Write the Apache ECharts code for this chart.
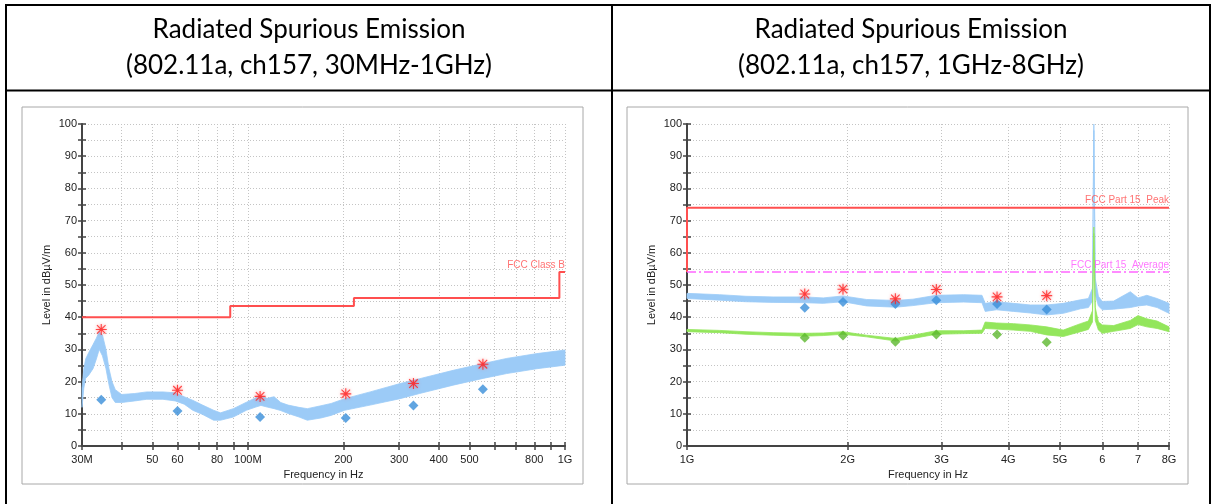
<!DOCTYPE html>
<html>
<head>
<meta charset="utf-8">
<script src="https://cdn.jsdelivr.net/npm/echarts@6/dist/echarts.min.js"></script>
<style>
html, body { margin: 0; padding: 0; background: #fff; }
#chart { width: 1216px; height: 504px; }
</style>
</head>
<body>
<div id="chart"></div>
<script>
// ---------- 30MHz - 1GHz (frequency in MHz) ----------
var lowFreq = [30, 30.4, 30.8, 31.5, 32.5, 33.3, 34.0, 34.8, 35.7, 36.5, 37.3, 38.2, 40, 44, 48, 54, 59, 63, 67, 72, 78, 82, 90, 99, 106, 110, 115, 121, 127, 134, 145, 154, 170, 183, 202, 243, 302, 348, 444, 552, 655, 815, 1000];
var lowTraceMin = [12, 18, 21, 22, 24, 27, 30, 28, 24, 19, 15, 13.5, 13.5, 14, 14.5, 14.5, 14, 13, 11.1, 9.8, 8.0, 8.0, 9.0, 11.1, 12.1, 12.6, 12.1, 11.6, 11.0, 10.1, 9.0, 8.0, 8.7, 9.5, 11.1, 12.7, 14.7, 16.3, 18.9, 21.0, 22.5, 24.0, 25.1];
var lowTraceMax = [18, 24, 27, 29, 31.5, 33.5, 35.5, 34.5, 30, 24, 20, 17.5, 16, 16.3, 16.8, 16.8, 16.5, 15.3, 14.2, 12.7, 11.1, 10.3, 11.6, 13.6, 15.0, 15.4, 14.8, 15.3, 13.5, 12.7, 12.0, 11.6, 12.5, 13.2, 14.7, 16.8, 19.4, 20.9, 23.5, 25.6, 27.2, 28.7, 29.8];
var lowMarkFreq = [34.5, 60.0, 109.3, 203.6, 332.8, 551];
var lowPeakLevel = [36.2, 17.3, 15.4, 16.2, 19.4, 25.4];
var lowQpLevel = [14.4, 10.9, 9.0, 8.7, 12.6, 17.6];
var classBFreq = [30, 88, 88, 216, 216, 960, 960, 1000];
var classBLevel = [40, 40, 43.5, 43.5, 46, 46, 54, 54];
var lowTickFreq = [30, 40, 50, 60, 70, 80, 90, 100, 200, 300, 400, 500, 600, 700, 800, 900, 1000];
var lowLabelFreq = [30, 50, 60, 80, 100, 200, 300, 400, 500, 800, 1000];
var lowLabelText = ['30M', '50', '60', '80', '100M', '200', '300', '400', '500', '800', '1G'];

// ---------- 1GHz - 8GHz (frequency in GHz) ----------
var highFreq = [1.0, 1.15, 1.29, 1.45, 1.66, 1.8, 1.96, 2.17, 2.46, 2.65, 2.93, 3.30, 3.57, 3.62, 3.8, 4.09, 4.4, 4.72, 5.07, 5.46, 5.65, 5.75, 5.785, 5.82, 5.9, 6.0, 6.3, 6.77, 7.0, 7.27, 7.6, 8.0];
var highPkMin = [45.8, 45.3, 44.8, 44.6, 44.5, 44.3, 44.8, 43.5, 43.1, 43.6, 44.5, 44.7, 44.5, 41.8, 42.3, 41.8, 41.3, 40.7, 41.2, 42.6, 43.0, 45, 98, 47, 43.5, 42.3, 42.5, 43.0, 43.5, 43.8, 43.0, 41.2];
var highPkMax = [47.4, 47.0, 46.5, 46.3, 46.3, 46.0, 46.6, 45.5, 45.2, 45.6, 46.8, 47.0, 46.8, 44.3, 44.8, 44.3, 43.8, 43.8, 44.3, 45.4, 45.8, 49, 100, 52, 46.5, 44.9, 45.0, 47.9, 46.0, 46.8, 45.8, 44.3];
var highAvMin = [35.5, 35.2, 34.7, 34.4, 34.1, 34.3, 34.7, 33.9, 32.6, 33.4, 34.7, 34.9, 35.0, 36.5, 36.3, 36.0, 35.6, 34.5, 34.0, 35.5, 36.2, 38.5, 66, 39, 36, 35.0, 35.6, 36.5, 37.7, 37.0, 36.5, 35.5];
var highAvMax = [36.2, 35.9, 35.5, 35.2, 35.0, 35.1, 35.5, 34.4, 33.4, 34.4, 35.8, 35.8, 36.0, 38.5, 38.2, 38.0, 37.6, 37.0, 36.0, 38.0, 38.8, 42, 68, 43, 38.5, 37.6, 37.4, 39.0, 40.5, 39.5, 38.8, 37.0];
var highMarkFreq = [1.662, 1.960, 2.457, 2.932, 3.810, 4.72];
var highPeakLevel = [47.2, 48.7, 45.7, 48.6, 46.3, 46.7];
var highPkMarkLevel = [42.9, 44.7, 44.1, 45.3, 44.1, 42.4];
var highAvMarkLevel = [33.6, 34.3, 32.4, 34.6, 34.6, 32.2];
var peakLimitFreq = [1, 1, 8];
var peakLimitLevel = [54, 74, 74];
var avgLimitFreq = [1, 8];
var avgLimitLevel = [54, 54];
var highTickFreq = [1, 2, 3, 4, 5, 6, 7, 8];
var highLabelText = ['1G', '2G', '3G', '4G', '5G', '6', '7', '8G'];

var levelMin = 0, levelMax = 100, levelStep = 5;

var AXIS = '#444';
var TXT = '#222';
var FONT = 'Liberation Sans';
var BLUE = '#9ccbf7';
var GREEN = '#93e65c';
var RED = '#ff4f4f';
var STAR = 'path://M9 0H11V20H9Z M0 9H20V11H0Z M1.5 2.9L2.9 1.5L18.5 17.1L17.1 18.5Z M17.1 1.5L18.5 2.9L2.9 18.5L1.5 17.1Z';

function lg(f) { return Math.log10(f); }
function pairs(fs, vs) { return fs.map(function (f, i) { return [lg(f), vs[i]]; }); }

function xAxes(grid, tickF, labelF, labelText) {
    var min = lg(tickF[0]), max = lg(tickF[tickF.length - 1]);
    var labelPos = labelF.map(lg);
    return [{
        type: 'value', gridIndex: grid, position: 'bottom', min: min, max: max,
        name: 'Frequency in Hz', nameLocation: 'middle', nameGap: 22,
        nameTextStyle: { color: TXT, fontSize: 11, fontFamily: FONT },
        axisLine: { lineStyle: { color: AXIS, width: 2 } },
        axisTick: { customValues: tickF.map(lg), length: 4, lineStyle: { color: AXIS, width: 1.5 } },
        axisLabel: {
            customValues: labelPos, margin: 8, color: TXT, fontSize: 11, fontFamily: FONT,
            formatter: function (v) {
                var best = 0;
                labelPos.forEach(function (p, i) { if (Math.abs(p - v) < Math.abs(labelPos[best] - v)) best = i; });
                return labelText[best];
            }
        },
        splitLine: { show: true, lineStyle: { color: '#c4c4c4', type: [1, 2] } }
    }, {
        type: 'value', gridIndex: grid, position: 'bottom', min: min, max: max,
        axisLine: { show: false },
        axisTick: { customValues: tickF.map(lg), inside: true, length: 4, lineStyle: { color: AXIS, width: 1.5 } },
        axisLabel: { show: false },
        splitLine: { show: false }
    }];
}

function yAxes(grid) {
    return [{
        type: 'value', gridIndex: grid, position: 'left', min: levelMin, max: levelMax, interval: levelStep,
        name: 'Level in dBµV/m', nameLocation: 'middle', nameGap: 30,
        nameTextStyle: { color: TXT, fontSize: 11, fontFamily: FONT },
        axisLine: { show: true, lineStyle: { color: AXIS, width: 2 } },
        axisTick: { show: true, length: 4, lineStyle: { color: AXIS, width: 1.5 } },
        axisLabel: {
            margin: 5, color: TXT, fontSize: 11, fontFamily: FONT,
            formatter: function (v) { return v % 10 === 0 ? String(v) : ''; }
        },
        splitLine: { show: true, lineStyle: { color: '#c4c4c4', type: [1, 2] } }
    }, {
        type: 'value', gridIndex: grid, position: 'left', min: levelMin, max: levelMax, interval: levelStep,
        axisLine: { show: false },
        axisTick: { show: true, inside: true, length: 4, lineStyle: { color: AXIS, width: 1.5 } },
        axisLabel: { show: false },
        splitLine: { show: false }
    }];
}

// measured trace drawn as a filled band between its min and max envelope
function band(xi, yi, fs, lo, hi, color) {
    var rows = fs.map(function (f, i) { return [lg(f), lo[i], hi[i]]; });
    return {
        type: 'custom', xAxisIndex: xi, yAxisIndex: yi, data: rows, silent: true, z: 3,
        encode: { x: 0, y: [1, 2] },
        renderItem: function (params, api) {
            if (params.dataIndex !== 0) return;
            var pts = [];
            rows.forEach(function (r) { pts.push(api.coord([r[0], r[2]])); });
            rows.slice().reverse().forEach(function (r) { pts.push(api.coord([r[0], r[1]])); });
            return {
                type: 'polygon', shape: { points: pts },
                style: { fill: color, stroke: color, lineWidth: 0.8 }
            };
        }
    };
}

function limitLabel(xi, yi, fs, vs, text, color) {
    var n = fs.length - 1;
    return {
        type: 'scatter', xAxisIndex: xi, yAxisIndex: yi, data: [[lg(fs[n]), vs[n]]],
        symbolSize: 0, clip: false, silent: true, z: 6,
        label: {
            show: true, formatter: text, position: 'top', align: 'right', distance: 2,
            color: color, fontSize: 10, fontFamily: FONT
        }
    };
}

function markers(xi, yi, fs, vs, symbol, size, color, z) {
    return {
        type: 'scatter', xAxisIndex: xi, yAxisIndex: yi, data: pairs(fs, vs),
        symbol: symbol, symbolSize: size, clip: false, silent: true, z: z,
        itemStyle: symbol === STAR
            ? { color: color, shadowBlur: 3, shadowColor: 'rgba(255,90,90,0.8)' }
            : { color: color }
    };
}

var titleFont = '26px Lato';
var myChart = echarts.init(document.getElementById('chart'));
var option = {
    backgroundColor: '#fff',
    animation: false,
    grid: [
        { left: 82, top: 124, width: 483, height: 322, outerBoundsMode: 'none' },
        { left: 687, top: 124, width: 482, height: 322, outerBoundsMode: 'none' }
    ],
    xAxis: [].concat(
        xAxes(0, lowTickFreq, lowLabelFreq, lowLabelText),
        xAxes(1, highTickFreq, highTickFreq, highLabelText)
    ),
    yAxis: [].concat(yAxes(0), yAxes(1)),
    graphic: [
        { type: 'rect', z: -10, shape: { x: 22, y: 107, width: 561, height: 377 }, style: { fill: '#fff', stroke: '#a8a8a8', lineWidth: 1 } },
        { type: 'rect', z: -10, shape: { x: 627, y: 107, width: 561, height: 377 }, style: { fill: '#fff', stroke: '#a8a8a8', lineWidth: 1 } },
        { type: 'line', shape: { x1: 5, y1: 5, x2: 1211, y2: 5 }, style: { stroke: '#000', lineWidth: 2 } },
        { type: 'line', shape: { x1: 5, y1: 90.5, x2: 1211, y2: 90.5 }, style: { stroke: '#000', lineWidth: 2 } },
        { type: 'line', shape: { x1: 6, y1: 4, x2: 6, y2: 504 }, style: { stroke: '#000', lineWidth: 2 } },
        { type: 'line', shape: { x1: 612, y1: 4, x2: 612, y2: 504 }, style: { stroke: '#000', lineWidth: 2 } },
        { type: 'line', shape: { x1: 1210, y1: 4, x2: 1210, y2: 504 }, style: { stroke: '#000', lineWidth: 2 } },
        { type: 'text', x: 309, y: 30, style: { text: 'Radiated Spurious Emission', font: titleFont, fill: '#000', align: 'center', verticalAlign: 'middle' } },
        { type: 'text', x: 309, y: 66, style: { text: '(802.11a, ch157, 30MHz-1GHz)', font: titleFont, fill: '#000', align: 'center', verticalAlign: 'middle' } },
        { type: 'text', x: 911, y: 30, style: { text: 'Radiated Spurious Emission', font: titleFont, fill: '#000', align: 'center', verticalAlign: 'middle' } },
        { type: 'text', x: 911, y: 66, style: { text: '(802.11a, ch157, 1GHz-8GHz)', font: titleFont, fill: '#000', align: 'center', verticalAlign: 'middle' } }
    ],
    series: [
        band(0, 0, lowFreq, lowTraceMin, lowTraceMax, BLUE),
        {
            type: 'line', xAxisIndex: 0, yAxisIndex: 0, data: pairs(classBFreq, classBLevel),
            symbol: 'none', lineStyle: { color: RED, width: 2 }, silent: true, z: 4
        },
        limitLabel(0, 0, classBFreq, classBLevel, 'FCC Class B', RED),
        markers(0, 0, lowMarkFreq, lowQpLevel, 'diamond', 10, '#3a8fd9', 5),
        markers(0, 0, lowMarkFreq, lowPeakLevel, STAR, 11, '#ff1f1f', 6),

        band(2, 2, highFreq, highPkMin, highPkMax, BLUE),
        band(2, 2, highFreq, highAvMin, highAvMax, GREEN),
        {
            type: 'line', xAxisIndex: 2, yAxisIndex: 2, data: pairs(peakLimitFreq, peakLimitLevel),
            symbol: 'none', lineStyle: { color: RED, width: 2 }, silent: true, z: 4
        }, {
            type: 'line', xAxisIndex: 2, yAxisIndex: 2, data: pairs(avgLimitFreq, avgLimitLevel),
            symbol: 'none', lineStyle: { color: '#ff66ff', width: 1.5, type: [9, 3, 2, 3] }, silent: true, z: 4
        },
        limitLabel(2, 2, peakLimitFreq, peakLimitLevel, 'FCC Part 15  Peak', RED),
        limitLabel(2, 2, avgLimitFreq, avgLimitLevel, 'FCC Part 15  Average', '#ff55ff'),
        markers(2, 2, highMarkFreq, highPkMarkLevel, 'diamond', 10, '#3a8fd9', 5),
        markers(2, 2, highMarkFreq, highAvMarkLevel, 'diamond', 10, '#5cb82e', 5),
        markers(2, 2, highMarkFreq, highPeakLevel, STAR, 11, '#ff1f1f', 6)
    ]
};
option && myChart.setOption(option);
</script>
</body>
</html>
